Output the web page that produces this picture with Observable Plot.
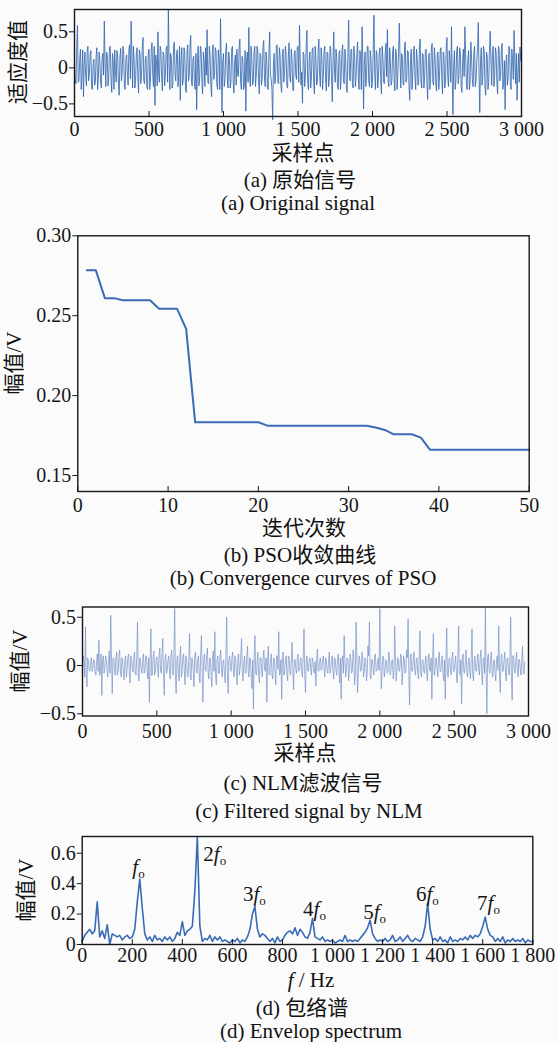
<!DOCTYPE html>
<html><head><meta charset="utf-8">
<script src="https://cdn.jsdelivr.net/npm/d3@7"></script>
<script src="https://cdn.jsdelivr.net/npm/@observablehq/plot@0.6"></script>
<style>
html,body{margin:0;padding:0;background:#fbfbfb;}
#root{position:relative;width:558px;height:1042px;overflow:hidden;font-family:"Liberation Serif","Times New Roman","Noto Sans CJK SC",serif;color:#111;}
.panel{position:absolute;left:0;}
.t{position:absolute;white-space:nowrap;font-size:21px;line-height:1;transform:translate(-50%,-50%);}
.ry{transform:translate(-50%,-50%) rotate(-90deg);}
</style></head><body><div id="root"></div>
<script>
// ---------- data ----------
// (a) original signal: values at samples 0,10,20,... and at 5,15,25,...
const sigA = [
 0.05,-0.22,0.59,-0.18,0.26,-0.1,-0.4,0.22,-0.25,0.3,-0.08,0.24,-0.3,0.12,-0.2,0.28,-0.15,0.1,-0.28,0.2,
 0.65,-0.26,0.18,-0.12,0.3,-0.34,0.08,0.25,-0.2,0.15,-0.38,0.27,-0.06,0.22,-0.3,0.18,-0.24,0.32,0.65,-0.28,
 0.12,-0.18,0.28,-0.35,0.2,-0.1,0.42,-0.22,0.16,-0.3,0.26,-0.14,0.35,-0.26,-0.52,0.1,0.5,-0.2,0.24,-0.32,
 0.18,-0.1,0.3,0.81,-0.3,0.14,-0.22,0.36,-0.18,0.25,-0.08,-0.45,0.28,-0.16,0.2,-0.34,0.32,-0.12,0.45,-0.25,
 0.16,-0.3,-0.58,0.3,-0.14,0.24,-0.36,0.1,0.28,0.53,-0.22,0.18,-0.4,0.32,-0.1,0.22,-0.3,0.14,0.68,-0.62,
 0.2,-0.16,0.34,-0.28,0.12,-0.2,0.3,-0.35,0.18,0.26,-0.12,0.4,-0.3,0.1,-0.24,-0.6,0.22,0.56,-0.26,0.14,
 -0.2,0.3,-0.1,0.24,-0.36,0.18,-0.14,0.38,-0.26,0.12,-0.3,0.5,-0.16,-0.72,0.2,-0.1,0.32,-0.22,0.16,-0.34,
 0.26,-0.08,0.2,-0.28,0.35,-0.2,0.1,-0.32,0.24,-0.16,0.3,0.59,-0.24,-0.49,0.18,-0.1,0.52,-0.3,0.22,-0.14,
 0.28,-0.36,0.12,-0.2,0.4,-0.26,0.16,-0.1,0.3,-0.32,0.2,-0.18,0.26,-0.47,0.5,-0.2,0.14,-0.3,0.24,-0.12,
 0.32,-0.22,0.1,-0.34,0.66,-0.18,0.26,-0.28,0.16,-0.12,0.36,-0.3,0.2,0.57,-0.57,0.22,-0.14,0.3,-0.26,0.12,
 -0.2,0.73,-0.3,0.18,-0.12,0.28,-0.36,0.14,-0.22,0.34,0.53,-0.26,0.1,-0.18,0.3,-0.32,0.2,-0.1,0.62,-0.28,
 0.16,-0.24,0.36,-0.14,0.22,-0.45,0.26,-0.1,0.3,-0.3,0.12,-0.2,0.4,-0.28,0.18,-0.12,0.26,-0.44,0.2,-0.16,
 0.34,-0.24,0.14,-0.32,0.22,-0.1,0.28,-0.36,0.16,-0.2,0.42,-0.26,0.1,0.57,-0.65,0.24,-0.18,0.3,-0.12,0.2,
 -0.34,0.26,0.57,-0.22,0.12,-0.3,0.36,-0.16,0.2,-0.26,0.1,0.63,-0.62,0.28,-0.14,0.22,-0.38,0.16,-0.2,0.51,
 -0.24,0.3,-0.12,0.2,-0.36,0.26,-0.1,0.34,-0.2,-0.58,0.18,-0.14,0.28,-0.3,0.12,0.52,-0.22,-0.45,0.2,0.29
];
const sigAmid = [
 -0.15,0.3,-0.2,0.12,-0.3,0.25,0.05,-0.12,0.22,-0.18,0.2,-0.28,0.06,-0.24,0.16,-0.3,0.22,-0.2,0.14,-0.1,
 0.1,0.22,-0.25,0.28,-0.16,0.2,-0.3,-0.05,0.24,-0.22,0.15,-0.18,0.3,-0.26,0.12,-0.08,0.26,-0.15,0.2,0.3,
 -0.28,0.2,-0.12,0.25,-0.22,0.3,-0.18,0.12,-0.26,0.2,-0.3,0.24,-0.1,0.3,0.18,-0.25,-0.1,0.3,-0.16,0.22,
 -0.25,0.26,-0.2,0.1,0.2,-0.28,0.3,-0.1,0.2,-0.26,0.3,0.12,-0.24,0.28,-0.3,0.22,-0.18,0.3,-0.2,0.12,
 -0.22,0.2,0.06,-0.25,0.3,-0.2,0.22,-0.26,-0.1,-0.2,0.3,-0.24,0.2,-0.16,0.28,-0.22,0.25,-0.3,0.05,0.1,
 -0.26,0.24,-0.1,0.22,-0.28,0.26,-0.18,0.1,-0.24,-0.1,0.3,-0.2,0.16,-0.3,0.24,0.1,-0.2,-0.1,0.3,-0.24,
 0.22,-0.26,0.3,-0.16,0.2,-0.24,0.3,-0.14,0.22,-0.28,0.24,-0.1,-0.3,0.05,-0.22,0.3,-0.2,0.28,-0.24,0.2,
 -0.2,0.3,-0.24,0.16,-0.12,0.26,-0.3,0.2,-0.1,0.28,-0.2,0.1,-0.06,0.22,-0.26,0.3,-0.18,0.1,-0.28,0.24,
 -0.2,0.3,-0.24,0.22,-0.1,0.28,-0.3,0.24,-0.16,0.22,-0.26,0.3,-0.12,0.1,-0.06,0.26,-0.24,0.2,-0.3,0.24,
 -0.18,0.26,-0.3,0.2,-0.1,0.24,-0.22,0.3,-0.26,0.2,-0.16,0.24,-0.3,0.1,0.05,-0.26,0.3,-0.2,0.24,-0.28,
 0.26,-0.1,0.24,-0.28,0.2,-0.16,0.3,-0.2,0.18,-0.12,-0.2,0.28,-0.24,0.22,-0.16,0.26,-0.3,0.22,0.1,0.2,
 -0.22,0.3,-0.2,0.24,-0.26,0.12,-0.3,0.22,-0.14,0.26,-0.24,0.3,-0.18,0.2,-0.28,0.24,-0.2,0.1,-0.3,0.26,
 -0.2,0.28,-0.24,0.2,-0.3,0.26,-0.16,0.22,-0.28,0.3,-0.12,0.24,-0.2,-0.1,0.05,-0.3,0.24,-0.22,0.28,-0.26,
 0.1,-0.12,0.2,-0.3,0.24,-0.2,0.14,-0.26,0.3,-0.18,0.26,-0.1,0.1,-0.24,0.3,-0.28,0.22,-0.3,0.24,0.1,
 0.2,-0.26,0.28,-0.22,0.3,-0.18,0.24,-0.3,0.1,0.05,-0.24,0.3,-0.2,0.26,-0.16,0.1,0.2,-0.1,-0.2,0.1
];
// (b) PSO convergence, iterations 1..50
const convIter = d3.range(1, 51);
const convVal = [
 0.2784,0.2784,0.261,0.261,0.2597,0.2597,0.2597,0.2597,0.2543,0.2543,
 0.2543,0.2418,0.1833,0.1833,0.1833,0.1833,0.1833,0.1833,0.1833,0.1833,
 0.1812,0.1812,0.1812,0.1812,0.1812,0.1812,0.1812,0.1812,0.1812,0.1812,
 0.1812,0.1812,0.1800,0.1785,0.1758,0.1758,0.1758,0.1737,0.1662,0.1662,
 0.1662,0.1662,0.1662,0.1662,0.1662,0.1662,0.1662,0.1662,0.1662,0.1662
];
// (c) NLM filtered signal: values at samples 0,10,20,... and at 5,15,25,...
const sigC = [
 -0.05,0.06,0.40,-0.22,0.04,-0.06,0.08,-0.03,0.05,-0.1,0.12,0.26,-0.08,-0.31,0.1,-0.04,0.07,-0.12,0.15,0.52,
 -0.29,0.08,-0.1,0.14,-0.06,0.16,-0.12,0.05,-0.15,0.1,-0.04,0.12,-0.18,0.08,-0.07,0.14,-0.1,0.45,-0.16,0.06,
 -0.08,0.12,-0.05,0.1,-0.14,-0.38,0.38,-0.1,0.15,-0.06,0.09,-0.12,0.18,-0.08,0.28,-0.31,0.12,-0.05,0.1,-0.14,
 0.16,-0.1,0.59,-0.29,0.1,-0.16,0.2,-0.06,0.12,-0.2,0.08,-0.12,0.33,-0.15,0.06,-0.22,0.14,-0.08,0.1,-0.18,
 0.31,-0.38,0.12,-0.06,0.18,-0.14,0.08,-0.22,0.15,0.35,-0.2,0.1,-0.08,0.16,-0.12,0.06,-0.18,0.5,-0.29,0.1,
 -0.06,0.14,-0.12,0.08,-0.2,0.12,-0.04,0.28,-0.16,0.1,-0.08,0.2,-0.12,0.06,-0.24,-0.45,0.31,-0.1,0.14,-0.18,
 0.08,-0.12,0.16,-0.06,-0.38,0.2,-0.1,0.12,-0.14,0.06,-0.2,0.1,0.35,-0.08,-0.35,0.14,-0.06,0.1,-0.16,0.08,
 -0.1,0.24,-0.25,0.06,-0.08,0.12,-0.04,0.08,-0.12,0.38,-0.28,0.1,-0.06,0.08,-0.1,0.05,-0.08,-0.21,0.17,-0.06,
 0.08,-0.04,0.1,-0.12,0.06,-0.08,0.14,-0.05,0.1,-0.14,0.06,-0.1,0.12,-0.18,-0.35,0.1,0.31,-0.12,0.08,-0.16,
 0.12,-0.08,0.16,-0.2,0.45,-0.28,0.1,-0.06,0.14,-0.12,0.08,-0.16,0.2,0.45,-0.14,0.06,-0.1,0.12,-0.05,0.08,
 0.59,-0.24,0.1,-0.12,0.06,-0.08,0.14,-0.1,0.05,-0.14,0.41,-0.16,0.08,-0.06,0.12,-0.2,0.1,-0.08,0.16,0.48,
 -0.41,0.12,-0.06,0.14,-0.1,0.08,-0.14,0.36,-0.12,0.06,-0.08,0.1,-0.16,0.12,-0.06,-0.35,0.33,-0.1,0.08,-0.12,
 0.14,-0.06,0.1,-0.16,-0.35,0.39,-0.12,0.08,-0.1,0.14,-0.06,0.1,-0.18,0.41,-0.1,-0.4,0.12,-0.08,0.16,-0.12,
 0.08,-0.14,0.38,-0.16,0.1,-0.06,0.12,-0.1,0.16,-0.2,0.08,0.6,-0.5,0.12,-0.08,0.14,-0.12,0.06,-0.16,0.1,
 0.41,-0.28,0.12,-0.06,0.14,-0.16,0.08,-0.1,0.5,-0.36,0.1,-0.08,0.14,-0.12,0.06,-0.1,0.2,-0.09
];
const sigCmid = [
 0.1,-0.12,-0.1,0.08,-0.05,0.04,-0.06,0.06,-0.08,0.04,-0.06,-0.1,0.12,0.05,-0.08,0.1,-0.05,0.06,-0.08,0.1,
 0.06,-0.04,0.08,-0.1,0.1,-0.06,0.08,-0.1,0.06,-0.12,0.08,-0.06,0.1,-0.04,0.06,-0.08,0.1,-0.1,0.08,-0.05,
 0.06,-0.08,0.1,-0.06,0.08,0.05,-0.1,0.08,-0.1,0.06,-0.04,0.1,-0.06,0.12,-0.1,0.06,-0.08,0.05,-0.06,0.1,
 -0.06,0.12,-0.1,0.06,-0.08,0.1,-0.12,0.08,-0.06,0.1,-0.1,0.06,-0.1,0.08,-0.06,0.1,-0.04,0.06,-0.1,0.12,
 -0.08,0.06,-0.04,0.1,-0.08,0.06,-0.1,0.08,-0.06,-0.1,0.06,-0.08,0.1,-0.06,0.04,-0.1,0.12,-0.1,0.06,-0.04,
 0.08,-0.06,0.1,-0.08,0.06,-0.1,0.12,-0.06,0.04,-0.08,0.1,-0.06,0.08,-0.1,0.06,0.1,-0.08,0.06,-0.1,0.08,
 -0.06,0.1,-0.04,0.08,0.06,-0.08,0.06,-0.1,0.08,-0.06,0.1,-0.04,-0.1,0.06,0.08,-0.1,0.06,-0.08,0.1,-0.06,
 0.08,-0.06,0.06,-0.04,0.08,-0.06,0.05,-0.08,0.1,-0.1,0.06,-0.05,0.06,-0.04,0.08,-0.06,0.04,0.06,-0.05,0.04,
 -0.05,0.06,-0.04,0.08,-0.06,0.04,-0.08,0.06,-0.06,0.08,-0.05,0.06,-0.04,0.08,0.05,-0.08,0.06,-0.04,0.06,-0.06,
 0.06,-0.06,0.08,-0.1,0.12,-0.08,0.06,-0.04,0.08,-0.06,0.06,-0.08,0.1,-0.1,0.06,-0.04,0.08,-0.06,0.04,-0.05,
 0.1,-0.06,0.08,-0.05,0.04,-0.06,0.08,-0.04,0.06,-0.08,0.1,-0.06,0.05,-0.04,0.08,-0.06,0.05,-0.06,0.08,-0.1,
 0.08,-0.06,0.06,-0.05,0.06,-0.08,0.1,-0.08,0.05,-0.06,0.04,-0.08,0.06,-0.04,0.08,0.05,-0.1,0.06,-0.04,0.08,
 -0.06,0.05,-0.08,0.06,0.08,-0.1,0.06,-0.04,0.08,-0.06,0.04,-0.08,0.1,-0.08,0.06,0.08,-0.06,0.05,-0.06,0.04,
 -0.06,0.08,-0.1,0.06,-0.05,0.06,-0.04,0.08,-0.06,0.06,-0.08,-0.1,0.08,-0.04,0.06,-0.06,0.04,-0.08,0.06,-0.05,
 -0.1,0.08,-0.06,0.05,-0.08,0.06,-0.04,0.08,-0.1,0.1,-0.06,0.05,-0.04,0.06,-0.05,0.06,-0.08,0.04
];
// (d) envelope spectrum, one value every 10 Hz (0..1800)
const specVal = [
 0.02,0.06,0.08,0.1,0.07,0.09,0.28,0.05,0.09,0.04,
 0.13,0.0,0.07,0.06,0.05,0.06,0.03,0.05,0.06,0.04,
 0.05,0.1,0.28,0.43,0.24,0.07,0.03,0.05,0.02,0.06,
 0.03,0.04,0.02,0.05,0.03,0.05,0.02,0.04,0.08,0.06,
 0.15,0.06,0.09,0.1,0.12,0.35,0.71,0.12,0.02,0.04,
 0.03,0.06,0.02,0.05,0.03,0.05,0.02,0.03,0.02,0.01,
 0.03,0.02,0.04,0.01,0.03,0.02,0.05,0.1,0.2,0.25,
 0.1,0.05,0.07,0.06,0.04,0.02,0.04,0.01,0.05,0.02,
 0.03,0.06,0.08,0.09,0.07,0.11,0.06,0.1,0.08,0.05,
 0.04,0.08,0.17,0.05,0.04,0.03,0.05,0.02,0.03,0.02,
 0.03,0.01,0.02,0.03,0.02,0.06,0.02,0.03,0.02,0.03,
 0.02,0.04,0.06,0.08,0.11,0.16,0.07,0.04,0.02,0.03,
 0.02,0.04,0.02,0.03,0.06,0.02,0.03,0.05,0.02,0.04,
 0.06,0.03,0.02,0.04,0.03,0.02,0.05,0.12,0.27,0.1,
 0.03,0.04,0.02,0.05,0.02,0.03,0.01,0.05,0.02,0.03,
 0.02,0.04,0.03,0.05,0.03,0.06,0.04,0.06,0.05,0.07,
 0.12,0.18,0.1,0.06,0.05,0.02,0.04,0.02,0.05,0.01,
 0.03,0.02,0.04,0.02,0.03,0.02,0.04,0.01,0.03,0.02,
 0.02
];
// harmonic labels of panel (d): multiple k of the fault frequency f_o
const harmK = [1, 2, 3, 4, 5, 6, 7];
const harmF = [225, 484, 688, 928, 1168, 1379, 1623];
const harmV = [0.51, 0.59, 0.33, 0.23, 0.21, 0.33, 0.27];

// tick values and labels
const sigTicks = [0, 500, 1000, 1500, 2000, 2500, 3000];
const sigTickLabels = ["0", "500", "1 000", "1 500", "2 000", "2 500", "3 000"];
const ampTicks = [-0.5, 0, 0.5];
const ampTickLabels = ["\u22120.5", "0", "0.5"];
const iterTicks = [0, 10, 20, 30, 40, 50];
const iterTickLabels = ["0", "10", "20", "30", "40", "50"];
const convTicks = [0.15, 0.20, 0.25, 0.30];
const convTickLabels = ["0.15", "0.20", "0.25", "0.30"];
const freqTicks = [0, 200, 400, 600, 800, 1000, 1200, 1400, 1600, 1800];
const freqTickLabels = ["0", "200", "400", "600", "800", "1 000", "1 200", "1 400", "1 600", "1 800"];
const specTicks = [0, 0.2, 0.4, 0.6];
const specTickLabels = ["0", "0.2", "0.4", "0.6"];

// ---------- drawing ----------
const FONT = '"Liberation Serif","Times New Roman","Noto Sans CJK SC",serif';
const INK = "#161616";
const root = document.getElementById("root");

function interleave(a, b) {
  return a.flatMap((v, i) => [{x: i * 10, y: v}, {x: i * 10 + 5, y: b[i]}]);
}

function panel(o) {
  const frameH = o.height - o.mt - o.mb;
  const svg = Plot.plot({
    width: 558, height: o.height,
    marginTop: o.mt, marginBottom: o.mb, marginLeft: o.ml, marginRight: o.mr,
    style: {fontFamily: FONT, fontSize: "20px", color: INK, background: "transparent", overflow: "visible"},
    x: {domain: o.xDomain},
    y: {domain: o.yDomain},
    marks: [
      ...o.marks,
      Plot.axisX({ticks: o.xTicks, tickSize: 0, tickPadding: o.xPad, fontSize: 20, label: null,
        tickFormat: d => o.xLabels[o.xTicks.indexOf(d)]}),
      Plot.tickX(o.xTicks, {x: d => d, insetTop: frameH - 5, stroke: INK, strokeWidth: 1}),
      Plot.axisY({ticks: o.yTicks, tickSize: 5, tickPadding: 1.5, fontSize: 20, label: null, stroke: INK,
        tickFormat: d => o.yLabels[o.yTicks.indexOf(d)]}),
      Plot.frame({stroke: INK, strokeWidth: 1.4})
    ]
  });
  const div = document.createElement("div");
  div.className = "panel";
  div.style.top = o.top + "px";
  div.appendChild(svg);
  root.appendChild(div);
  return svg;
}

function label(html, x, y, rot) {
  const d = document.createElement("div");
  d.className = "t" + (rot ? " ry" : "");
  d.style.left = x + "px";
  d.style.top = y + "px";
  d.innerHTML = html;
  root.appendChild(d);
}

// (a)
panel({
  top: 0, height: 140, mt: 9, mb: 24, ml: 74, mr: 37, xPad: 5,
  xDomain: [0, 3000], yDomain: [-0.675, 0.81],
  xTicks: sigTicks, xLabels: sigTickLabels, yTicks: ampTicks, yLabels: ampTickLabels,
  marks: [Plot.line(interleave(sigA, sigAmid), {x: "x", y: "y", stroke: "#2c62ad", strokeWidth: 0.8})]
});
label("适应度值", 18, 62, true);
label("采样点", 303, 153);
label("(a) 原始信号", 300, 180);
label("(a) Original signal", 298, 203);

// (b)
panel({
  top: 220, height: 300, mt: 15.3, mb: 29, ml: 77.3, mr: 29.3, xPad: 6,
  xDomain: [0, 50], yDomain: [0.14, 0.30],
  xTicks: iterTicks, xLabels: iterTickLabels, yTicks: convTicks, yLabels: convTickLabels,
  marks: [Plot.line(convVal, {x: (d, i) => convIter[i], y: d => d, stroke: "#3a6cb6", strokeWidth: 2})]
});
label("幅值/V", 14, 363, true);
label("迭代次数", 304, 528);
label("(b) PSO收敛曲线", 300, 555);
label("(b) Convergence curves of PSO", 303, 578);

// (c)
panel({
  top: 590, height: 150, mt: 16.5, mb: 24.5, ml: 82, mr: 30, xPad: 8,
  xDomain: [0, 3000], yDomain: [-0.523, 0.606],
  xTicks: sigTicks, xLabels: sigTickLabels, yTicks: ampTicks, yLabels: ampTickLabels,
  marks: [Plot.line(interleave(sigC, sigCmid), {x: "x", y: "y", stroke: "#7592c9", strokeWidth: 0.7})]
});
label("幅值/V", 20, 661, true);
label("采样点", 305, 753);
label("(c) NLM滤波信号", 303, 783);
label("(c) Filtered signal by NLM", 309, 811);

// (d)
const svgD = panel({
  top: 820, height: 150, mt: 16, mb: 26, ml: 81.7, mr: 25.7, xPad: 3,
  xDomain: [0, 1800], yDomain: [0, 0.71],
  xTicks: freqTicks, xLabels: freqTickLabels, yTicks: specTicks, yLabels: specTickLabels,
  marks: [
    Plot.line(specVal, {x: (d, i) => i * 10, y: d => d, stroke: "#3a6cb6", strokeWidth: 1.6}),
    Plot.text(d3.range(harmK.length), {filter: i => i !== 1, x: i => harmF[i], y: i => harmV[i],
      text: i => String(harmK[i]), textAnchor: "middle", fontSize: 21, fill: INK}),
    Plot.text(d3.range(harmK.length), {filter: i => i === 1, x: i => harmF[i], y: i => harmV[i],
      text: i => String(harmK[i]), textAnchor: "start", fontSize: 21, fill: INK})
  ]
});
// harmonic labels: multiplier (omitted for 1), italic f, subscript o
d3.select(svgD).selectAll('g[aria-label="text"] text').each(function () {
  const el = d3.select(this);
  const k = el.text();
  el.text(null);
  if (k !== "1") el.append("tspan").text(k);
  el.append("tspan").attr("font-style", "italic").text("f");
  el.append("tspan").attr("font-size", 13).attr("dy", "0.3em").text("o");
});
label("幅值/V", 26, 890, true);
label("<i>f</i> / Hz", 311, 980);
label("(d) 包络谱", 302, 1008);
label("(d) Envelop spectrum", 311, 1031);
</script></body></html>
